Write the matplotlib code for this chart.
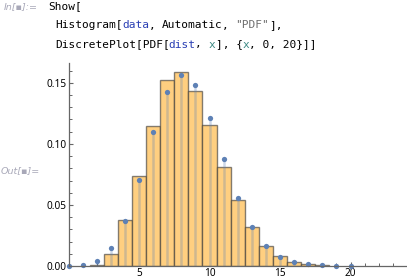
import matplotlib
matplotlib.use("Agg")
import matplotlib.pyplot as plt
import numpy as np
from matplotlib.ticker import MultipleLocator

# ---- data ----
bin_centers = [2, 3, 4, 5, 6, 7, 8, 9, 10, 11, 12, 13, 14, 15, 16, 17, 18]
bin_heights = [0.0008, 0.0096, 0.0375, 0.0738, 0.1145, 0.1522, 0.1588, 0.1432,
               0.1153, 0.0814, 0.0540, 0.0317, 0.0161, 0.0079, 0.0030, 0.0014, 0.0006]
pdf_x = list(range(0, 21))
pdf_y = [0.0001, 0.0008, 0.0043, 0.0148, 0.0371, 0.0707, 0.1098, 0.1426, 0.1568,
         0.1484, 0.1213, 0.0877, 0.0557, 0.0322, 0.0164, 0.0074, 0.0035, 0.0015,
         0.0008, 0.0003, 0.0001]
y_ticks = [0.00, 0.05, 0.10, 0.15]
y_tick_labels = ["0.00", "0.05", "0.10", "0.15"]
x_ticks = [5, 10, 15, 20]
x_tick_labels = ["5", "10", "15", "20"]

W, H = 407, 279
fig = plt.figure(figsize=(W / 100, H / 100), dpi=100)
fig.patch.set_facecolor("white")

# axes placement (pixel based)
x0_px, x_right_px = 68.5, 407
y0_px, ytop_px = 266, 62.7
ax = fig.add_axes([x0_px / W, (H - y0_px) / H, (x_right_px - x0_px) / W, (y0_px - ytop_px) / H])
ax.set_xlim(0, 24.0)
ax.set_ylim(0, 0.1665)

# histogram bars
ax.bar(bin_centers, bin_heights, width=1.0, align="center", color="#FFCF80",
       edgecolor=(0.2, 0.2, 0.2, 0.6), linewidth=1.0, zorder=2)

# discrete plot stems and points
ax.vlines(pdf_x, 0, pdf_y, colors=(0.37, 0.506, 0.71, 0.3), linewidth=1.8, zorder=3)
ax.plot(pdf_x, pdf_y, "o", color="#5E81B5", markersize=3.8, markeredgewidth=0,
        zorder=4, clip_on=False)

# spines
for s in ["top", "right"]:
    ax.spines[s].set_visible(False)
for s in ["left", "bottom"]:
    ax.spines[s].set_color("#666666")
    ax.spines[s].set_linewidth(0.9)
    ax.spines[s].set_zorder(5)

ax.set_xticks(x_ticks)
ax.set_xticklabels(x_tick_labels)
ax.set_yticks(y_ticks)
ax.set_yticklabels(y_tick_labels)
ax.xaxis.set_minor_locator(MultipleLocator(1))
ax.yaxis.set_minor_locator(MultipleLocator(0.01))
ax.tick_params(which="major", direction="in", length=3.2, width=0.8, color="#666666",
               labelsize=7.2, labelcolor="black")
ax.tick_params(which="minor", direction="in", length=2.0, width=0.7, color="#666666")
ax.tick_params(axis="y", which="major", pad=1.5)
ax.tick_params(axis="x", which="major", pad=1.5)
for lab in ax.get_xticklabels() + ax.get_yticklabels():
    lab.set_fontfamily("Noto Sans")

# ---- notebook text ----
mono = "DejaVu Sans Mono"
fs = 8
char_w = 0.602 * fs * 100 / 72  # px per char

def code_line(x_px, baseline_px, segments):
    x = x_px
    for txt, col in segments:
        fig.text(x / W, 1 - baseline_px / H, txt, fontfamily=mono, fontsize=fs,
                 color=col, va="baseline", ha="left", fontweight="medium")
        x += len(txt) * char_w

K = "#000000"
B = "#2A3FB4"
T = "#3E8A84"
G = "#6E6E6E"
code_line(48, 9.5, [("Show[", K)])
code_line(55, 28.5, [("Histogram[", K), ("data", B), (", ", K), ("Automatic", K),
                     (", ", K), ('"PDF"', G), ("],", K)])
code_line(55, 47.5, [("DiscretePlot[PDF[", K), ("dist", B), (", ", K), ("x", T),
                     ("], {", K), ("x", T), (", 0, 20}]]", K)])

fig.text(4 / W, 1 - 9.5 / H, "In[\u25aa]:=", fontfamily="DejaVu Sans", fontsize=6.8,
         style="italic", color="#A8A8B8", va="baseline", ha="left")
fig.text(1 / W, 1 - 173 / H, "Out[\u25aa]=", fontfamily="DejaVu Sans", fontsize=6.8,
         style="italic", color="#A8A8B8", va="baseline", ha="left")

fig.savefig("out.png", dpi=100, facecolor="white")
